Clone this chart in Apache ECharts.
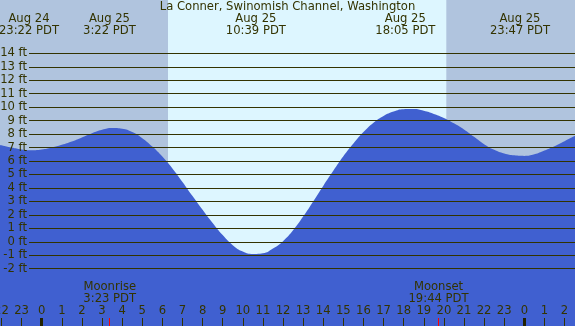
<!DOCTYPE html>
<html><head><meta charset="utf-8">
<script src="https://cdn.jsdelivr.net/npm/echarts@6/dist/echarts.min.js"></script>
<style>html,body{margin:0;padding:0;background:#4060d0;overflow:hidden}#c{width:575px;height:326px}</style>
</head><body><div id="c"></div>
<script>
const titleText = 'La Conner, Swinomish Channel, Washington';
// tide curve: hours relative to Aug 25 00:00 PDT, height in feet
const tideHours = [-2.08,-2,-1.5,-1,-0.5,0,0.5,1,1.5,2,2.5,3,3.5,4,4.5,5,5.5,6,6.5,7,7.5,8,8.5,9,9.5,10,10.5,11,11.5,12,12.5,13,13.5,14,14.5,15,15.5,16,16.5,17,17.5,18,18.5,19,19.5,20,20.5,21,21.5,22,22.5,23,23.5,24,24.5,25,25.5,26,26.5,26.53];
const tideFeet  = [7.2,7.17,7.0,6.86,6.8,6.85,7.0,7.2,7.45,7.75,8.06,8.32,8.45,8.4,8.15,7.7,7.08,6.33,5.45,4.45,3.4,2.38,1.4,0.5,-0.25,-0.72,-0.9,-0.85,-0.5,0.05,0.85,1.87,3.0,4.15,5.27,6.35,7.3,8.15,8.85,9.35,9.68,9.85,9.86,9.73,9.5,9.2,8.8,8.35,7.8,7.25,6.83,6.56,6.42,6.38,6.5,6.78,7.1,7.47,7.85,7.88];
const levelFeet = [-2,-1,0,1,2,3,4,5,6,7,8,9,10,11,12,13,14];
const hourTicks = [-2,-1,0,1,2,3,4,5,6,7,8,9,10,11,12,13,14,15,16,17,18,19,20,21,22,23,24,25,26];
const extremeHours = [-0.633, 3.367, 10.65, 18.083, 23.783];
const extremeDates = ['Aug 24','Aug 25','Aug 25','Aug 25','Aug 25'];
const extremeTimes = ['23:22 PDT','3:22 PDT','10:39 PDT','18:05 PDT','23:47 PDT'];
const midnightHours = [0, 24];
const moonHours = [3.383, 19.733];
const moonEvents = ['Moonrise','Moonset'];
const moonTimes = ['3:23 PDT','19:44 PDT'];
const sunriseHour = 6.28, sunsetHour = 20.12;

const xMin = -2.074, xMax = 26.52, yMin = -6.254, yMax = 17.96;
const lineStartHour = -0.63;
const ink = '#333300', font = 'DejaVu Sans', fs = 11.6;
const nightColor = '#b0c4de', dayColor = '#ddf6ff', waterColor = '#4060d0';

function nearestIdx(arr, v){let b=0;for(let i=1;i<arr.length;i++){if(Math.abs(arr[i]-v)<Math.abs(arr[b]-v))b=i;}return b;}

const chart = echarts.init(document.getElementById('c'), null, {renderer:'canvas'});
const baseX = {type:'value', min:xMin, max:xMax, gridIndex:0, z:20, axisLine:{show:false, onZero:false}, splitLine:{show:false}};
const txt = {color:ink, fontSize:fs, fontFamily:font};
chart.setOption({
  animation:false,
  backgroundColor: waterColor,
  title:{text:titleText, left:'center', top:1, padding:0, z:20, textStyle:{fontSize:fs, fontWeight:'normal', color:ink, fontFamily:font}},
  grid:{left:0, right:0, top:0, bottom:0, show:true, backgroundColor:nightColor, borderWidth:0, containLabel:false, outerBoundsMode:'none'},
  xAxis:[
    Object.assign({}, baseX, {position:'bottom',
      axisTick:{show:true, inside:true, length:8, customValues:hourTicks, lineStyle:{color:ink, width:1}},
      axisLabel:Object.assign({show:true, inside:true, margin:9, customValues:hourTicks, hideOverlap:false,
        formatter:v=>String(((Math.round(v)%24)+24)%24)}, txt)}),
    Object.assign({}, baseX, {position:'bottom',
      axisTick:{show:true, inside:true, length:8, customValues:midnightHours, lineStyle:{color:'#222200', width:3}},
      axisLabel:{show:false}}),
    Object.assign({}, baseX, {position:'bottom',
      axisTick:{show:true, inside:true, length:8, customValues:moonHours, lineStyle:{color:'#ff0000', width:1}},
      axisLabel:Object.assign({show:true, inside:true, margin:21, customValues:moonHours, hideOverlap:false, lineHeight:12,
        formatter:v=>{const i=nearestIdx(moonHours,v);return moonEvents[i]+'\n'+moonTimes[i];}}, txt)}),
    Object.assign({}, baseX, {position:'top',
      axisTick:{show:false},
      axisLabel:Object.assign({show:true, inside:true, margin:13, customValues:extremeHours, hideOverlap:false, lineHeight:12,
        formatter:v=>{const i=nearestIdx(extremeHours,v);return extremeDates[i]+'\n'+extremeTimes[i];}}, txt)})
  ],
  yAxis:{type:'value', min:yMin, max:yMax, z:20, axisLine:{show:false, onZero:false}, axisTick:{show:false}, splitLine:{show:false},
    axisLabel:Object.assign({show:true, inside:true, align:'right', margin:27, customValues:levelFeet, hideOverlap:false,
      formatter:v=>v+' ft'}, txt)},
  series:[{
    type:'line', xAxisIndex:0, yAxisIndex:0, smooth:true, symbol:'none', clip:true,
    data: tideHours.map((h,i)=>[h, tideFeet[i]]),
    lineStyle:{width:0},
    areaStyle:{color:waterColor, opacity:1, origin:'start'},
    markArea:{silent:true, itemStyle:{color:dayColor}, data:[[{xAxis:sunriseHour},{xAxis:sunsetHour}]]},
    markLine:{silent:true, symbol:['none','none'], label:{show:false}, lineStyle:{color:ink, width:1, type:'solid'},
      data: levelFeet.map(v=>[{coord:[lineStartHour, v]},{coord:[xMax, v]}])}
  }]
});
</script></body></html>
